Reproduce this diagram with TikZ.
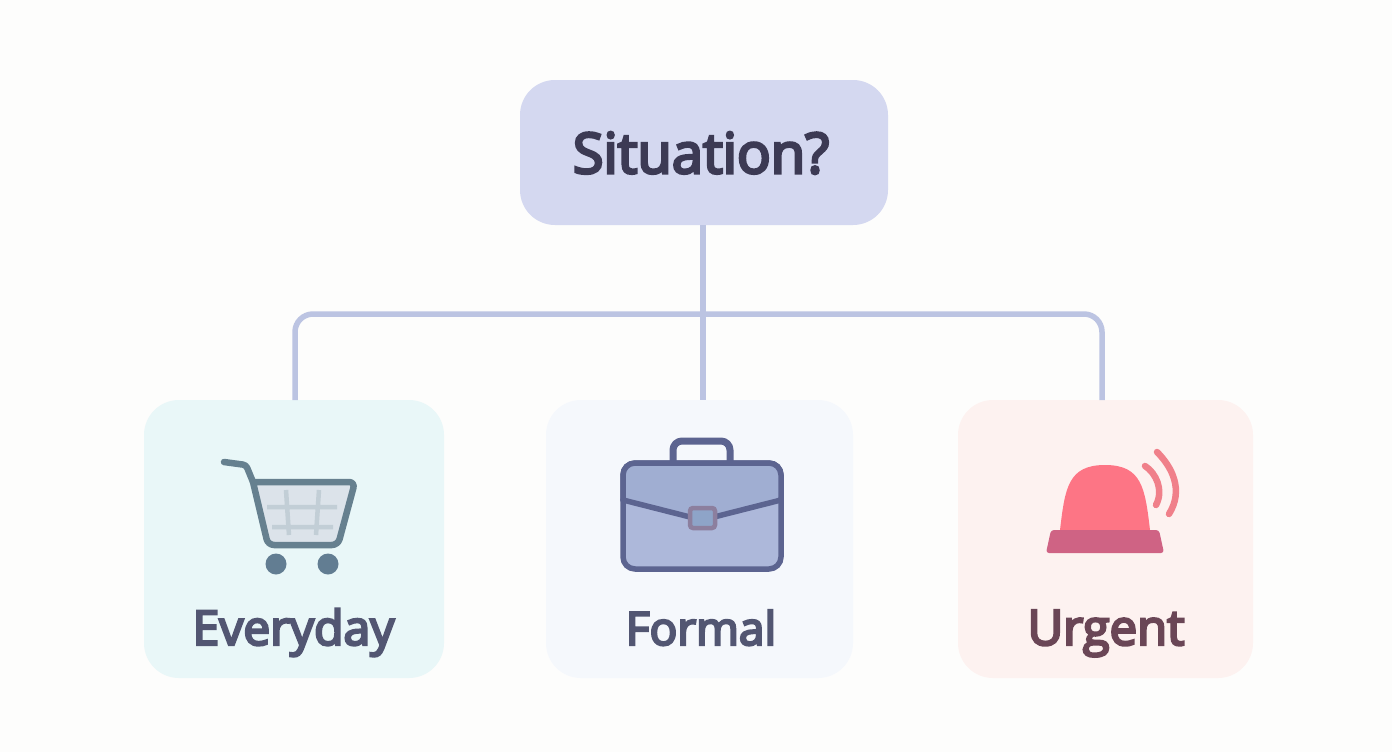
\documentclass[tikz,border=0pt]{standalone}
\usepackage{fontspec}
\setmainfont{Open Sans}
\newfontfamily\labfont[FakeBold=5]{Open Sans}
\definecolor{bgc}{HTML}{FDFDFC}
\definecolor{sitc}{HTML}{D4D8F0}
\definecolor{evc}{HTML}{E9F7F8}
\definecolor{foc}{HTML}{F5F8FC}
\definecolor{urc}{HTML}{FDF2F0}
\definecolor{linec}{HTML}{BCC4E2}
\definecolor{sittx}{HTML}{3C3A54}
\definecolor{lab}{HTML}{525672}
\definecolor{urtx}{HTML}{6A4656}
\definecolor{cartc}{HTML}{66808F}
\definecolor{cartf}{HTML}{DCE3EA}
\definecolor{gridc}{HTML}{C2CED6}
\definecolor{wheelc}{HTML}{627D92}
\definecolor{casec}{HTML}{5C6490}
\definecolor{caseu}{HTML}{A0AED2}
\definecolor{casel}{HTML}{ADB8DA}
\definecolor{clasps}{HTML}{8C7F9E}
\definecolor{claspf}{HTML}{8EA4C8}
\definecolor{domec}{HTML}{FD7585}
\definecolor{basec}{HTML}{CF6384}
\definecolor{wavec}{HTML}{F0808A}
\tikzset{
  card/.style={rounded corners=35pt,inner sep=0pt,outer sep=0pt,minimum height=278pt},
  conn/.style={draw=linec,line width=5.5pt,rounded corners=18pt},
  title/.style={font=\labfont\fontsize{56}{56}\selectfont,text=sittx,inner sep=0pt},
  lbl/.style={font=\labfont\fontsize{48}{48}\selectfont,text=lab,inner sep=0pt},
  casepen/.style={draw=casec,line width=5.5pt,line join=round,line cap=round},
  cartpen/.style={draw=cartc,line width=6.5pt,line join=round,line cap=round},
  gridpen/.style={draw=gridc,line width=4.5pt},
  wave/.style={draw=wavec,line width=6.5pt,line cap=round}
}
\begin{document}
\begin{tikzpicture}[x=1pt,y=-1pt]
\useasboundingbox[fill=bgc] (0,0) rectangle (1392,752);
\node[card,fill=sitc,minimum width=368pt,minimum height=145pt] (sit) at (704,152.5) {};
\node[card,fill=evc,minimum width=300pt] (ev) at (294,539) {};
\node[card,fill=foc,minimum width=307pt] (fo) at (699.5,539) {};
\node[card,fill=urc,minimum width=295pt] (ur) at (1105.5,539) {};
\coordinate (evtop) at (295,400);
\coordinate (urtop) at (1102,400);
\coordinate (fotop) at (703,400);
\coordinate (hub) at (703,314);
\draw[conn] (evtop) |- (hub);
\draw[conn] (urtop) |- (hub);
\draw[conn] (sit.south -| fotop) -- (fotop);
\node[title] (sitt) at (701,153) {Situation?};
\node[lbl,anchor=base] (evt) at (293.5,645) {Everyday};
\node[lbl,anchor=base,font=\labfont\fontsize{46}{46}\selectfont] (fot) at (701,645) {Formal};
\node[lbl,anchor=base,text=urtx,font=\labfont\fontsize{49}{49}\selectfont] (urt) at (1106,645) {Urgent};
% cart
\fill[cartf] (253,482) -- (355,482) -- (338,545) -- (268,545) -- cycle;
\draw[gridpen] (286,490) -- (289,535) (319,490) -- (316,535) (267,507) -- (337,507) (272,527) -- (333,527);
\draw[cartpen,rounded corners=3pt] (224,462) -- (246,465) -- (253,482);
\draw[cartpen,rounded corners=6pt] (253,482) -- (355,482) -- (338,545) -- (268,545) -- (253,482);
\fill[wheelc] (276,564) circle (10.5);
\fill[wheelc] (328,564) circle (10.5);
% briefcase
\draw[casepen,line width=7pt,rounded corners=9pt] (673,463) -- (673,441) -- (730,441) -- (730,463);
\draw[casepen,fill=casel,rounded corners=12pt] (623,463) rectangle (781,569);
\fill[caseu,rounded corners=10pt] (623,463) -- (781,463) -- (781,500) -- (702,522) -- (623,500) -- cycle;
\draw[casepen,rounded corners=12pt] (623,500) -- (623,463) -- (781,463) -- (781,500);
\draw[casepen] (623,500) -- (690,517) (714,517) -- (781,500);
\draw[draw=clasps,fill=claspf,line width=4.5pt,rounded corners=3pt] (690,508) rectangle (715,528);
% alarm
\fill[domec] (1060,530) .. controls (1065,488) and (1068,465) .. (1105,465) .. controls (1142,465) and (1145,488) .. (1150,530) -- cycle;
\fill[basec,rounded corners=3pt] (1051,530) -- (1159,530) -- (1164,553) -- (1046,553) -- cycle;
\draw[wave] (1145,466) .. controls (1156,473) and (1164,490) .. (1156,505);
\draw[wave] (1157,452) .. controls (1172,467) and (1184,490) .. (1169,514);
\end{tikzpicture}
\end{document}
